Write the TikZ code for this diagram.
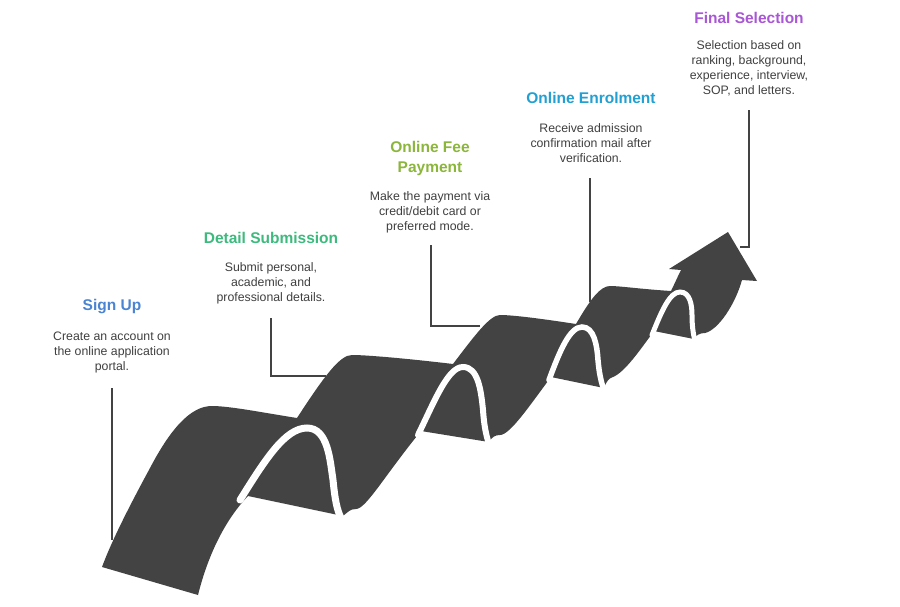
\documentclass[tikz,border=0pt]{standalone}
\usepackage{fontspec}
\setmainfont{Liberation Sans}
\definecolor{ribbon}{HTML}{434343}
\definecolor{bodytxt}{HTML}{404040}
\definecolor{cSign}{HTML}{4A84D2}
\definecolor{cDetail}{HTML}{3DBA7E}
\definecolor{cFee}{HTML}{8BB63B}
\definecolor{cEnrol}{HTML}{22A0D2}
\definecolor{cFinal}{HTML}{A957D6}
\tikzset{
  ttl/.style={font=\bfseries\fontsize{15.5}{20}\selectfont, align=center, inner sep=0pt},
  bodytext/.style={font=\fontsize{12.3}{15}\selectfont, text=bodytxt, align=center, inner sep=0pt},
  conn/.style={draw=ribbon, line width=1.5pt},
  gap/.style={draw=white, line cap=round}
}
\begin{document}
\begin{tikzpicture}[x=1pt,y=-1pt]
\useasboundingbox (0,0) rectangle (900,606);
\fill[white] (0,0) rectangle (900,606);

% connector coordinates
\coordinate (s1a) at (112,388);
\coordinate (s1b) at (112,540);
\coordinate (s2a) at (271,318);
\coordinate (s2b) at (271,376);
\coordinate (s2c) at (326,376);
\coordinate (s3a) at (431,245);
\coordinate (s3b) at (431,326);
\coordinate (s3c) at (480,326);
\coordinate (s4a) at (590,178);
\coordinate (s4b) at (590,302);
\coordinate (s5a) at (749,110);
\coordinate (s5b) at (749,247);
\coordinate (s5c) at (740,247);

\draw[conn] (s1a) -- (s1b);
\draw[conn] (s2a) -- (s2b) -- (s2c);
\draw[conn] (s3a) -- (s3b) -- (s3c);
\draw[conn] (s4a) -- (s4b);
\draw[conn] (s5a) -- (s5b) -- (s5c);

% ribbon silhouette
\fill[ribbon] (102,567) -- (198,595)
  .. controls (208,555) and (225,520) .. (248,496)
  -- (343,516)
  .. controls (348,512) and (350,509) .. (356,509)
  .. controls (366,509) and (385,475) .. (421,431)
  -- (489,442)
  .. controls (492,437) and (495,435) .. (500,435)
  .. controls (510,435) and (530,405) .. (551,377)
  -- (604,388)
  .. controls (606,382) and (609,378) .. (613,377)
  .. controls (625,372) and (640,350) .. (654,331)
  -- (694,339)
  .. controls (696,335) and (700,333) .. (705,333)
  .. controls (718,330) and (735,305) .. (742,280)
  -- (757,281) -- (728,232) -- (669,269) -- (681,270)
  .. controls (677,278) and (674,285) .. (671,291)
  .. controls (640,289) and (620,286) .. (610,286)
  .. controls (600,286) and (590,300) .. (576,324)
  .. controls (550,320) and (515,315) .. (500,315)
  .. controls (490,315) and (475,335) .. (453,364)
  .. controls (420,360) and (370,355) .. (352,355)
  .. controls (340,355) and (325,375) .. (297,418)
  .. controls (265,413) and (230,406) .. (212,406)
  .. controls (190,406) and (170,430) .. (150,468)
  .. controls (130,505) and (112,540) .. (102,567) -- cycle;

% white gaps (humps)
\draw[gap, line width=7pt] (240,500) .. controls (265,460) and (285,428) .. (307,428)
  .. controls (328,428) and (330,460) .. (333,480)
  .. controls (335,500) and (337,510) .. (341,518);
\draw[gap, line width=6pt] (418,435) .. controls (435,400) and (448,367) .. (463,367)
  .. controls (478,367) and (481,390) .. (483,410)
  .. controls (484,425) and (486,435) .. (489,444);
\draw[gap, line width=5.5pt] (549,380) .. controls (560,350) and (570,327) .. (582,327)
  .. controls (594,327) and (597,345) .. (598,360)
  .. controls (599,372) and (601,382) .. (604,390);
\draw[gap, line width=5pt] (652,335) .. controls (662,310) and (670,292) .. (680,292)
  .. controls (690,292) and (692,305) .. (692,315)
  .. controls (692,325) and (693,333) .. (695,341);

% texts
\node[ttl, text=cSign] (t1) at (112,307) {Sign Up};
\node[bodytext] (b1) at (112,352) {Create an account on\\the online application\\portal.};
\node[ttl, text=cDetail] (t2) at (271,238) {Detail Submission};
\node[bodytext] (b2) at (271,283) {Submit personal,\\academic, and\\professional details.};
\node[ttl, text=cFee] (t3) at (430,158) {Online Fee\\Payment};
\node[bodytext] (b3) at (430,212) {Make the payment via\\credit/debit card or\\preferred mode.};
\node[ttl, text=cEnrol] (t4) at (591,98) {Online Enrolment};
\node[bodytext] (b4) at (591,143) {Receive admission\\confirmation mail after\\verification.};
\node[ttl, text=cFinal] (t5) at (749,18) {Final Selection};
\node[bodytext] (b5) at (749,68.5) {Selection based on\\ranking, background,\\experience, interview,\\SOP, and letters.};
\end{tikzpicture}
\end{document}
